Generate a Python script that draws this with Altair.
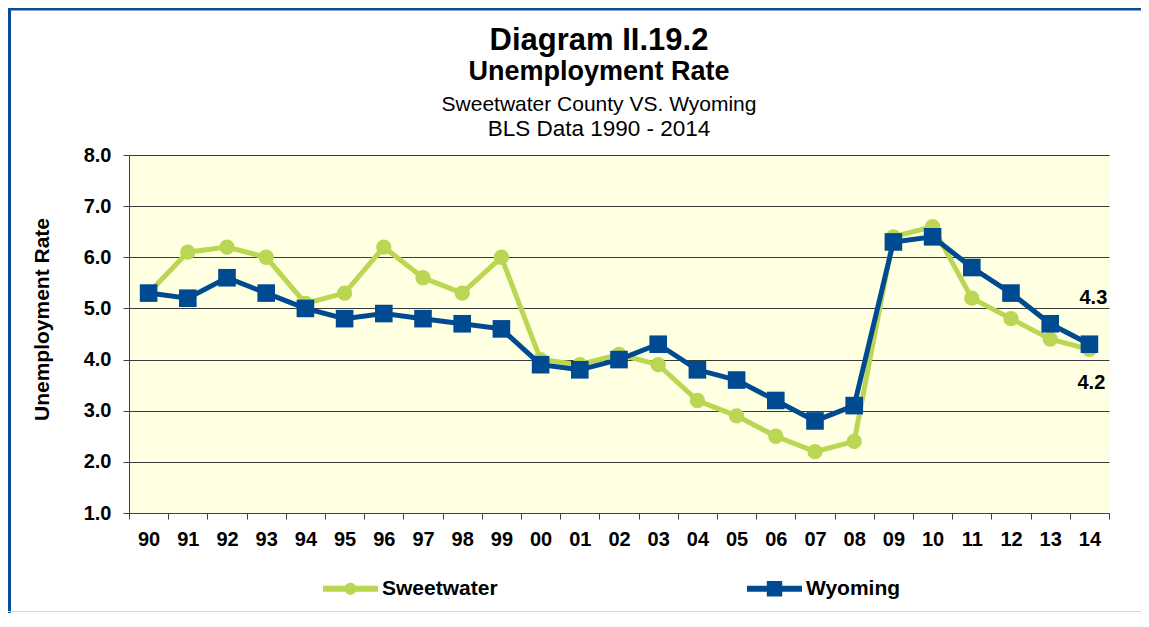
import altair as alt
import pandas as pd

# ---------------- data ----------------
years = ["90", "91", "92", "93", "94", "95", "96", "97", "98", "99",
         "00", "01", "02", "03", "04", "05", "06", "07", "08", "09",
         "10", "11", "12", "13", "14"]
sweetwater = [5.3, 6.1, 6.2, 6.0, 5.1, 5.3, 6.2, 5.6, 5.3, 6.0,
              4.0, 3.9, 4.1, 3.9, 3.2, 2.9, 2.5, 2.2, 2.4, 6.4,
              6.6, 5.2, 4.8, 4.4, 4.2]
wyoming = [5.3, 5.2, 5.6, 5.3, 5.0, 4.8, 4.9, 4.8, 4.7, 4.6,
           3.9, 3.8, 4.0, 4.3, 3.8, 3.6, 3.2, 2.8, 3.1, 6.3,
           6.4, 5.8, 5.3, 4.7, 4.3]
series_names = ["Sweetwater", "Wyoming"]
series_colors = ["#BAD653", "#004A92"]
y_ticks = [1, 2, 3, 4, 5, 6, 7, 8]
title_lines = ["Diagram II.19.2", "Unemployment Rate",
               "Sweetwater County VS. Wyoming", "BLS Data 1990 - 2014"]
y_title = "Unemployment Rate"

rows = []
for name, vals in zip(series_names, [sweetwater, wyoming]):
    for yr, v in zip(years, vals):
        rows.append({"year": yr, "rate": v, "series": name})
df = pd.DataFrame(rows)

FONT = "Liberation Sans"
W, H = 980, 358
# legend glyphs: a bar (line) with a circle / square in the middle, all filled
PATH_C = ("M-1,-0.11L1,-0.11L1,0.11L-1,0.11Z"
          "M-0.22,0A0.22,0.22,0,1,1,0.22,0A0.22,0.22,0,1,1,-0.22,0Z")
PATH_S = ("M-1,-0.11L1,-0.11L1,0.11L-1,0.11Z"
          "M-0.28,-0.28L0.28,-0.28L0.28,0.28L-0.28,0.28Z")

x_enc = alt.X(
    "year:O", sort=years,
    scale=alt.Scale(type="band", paddingInner=0, paddingOuter=0),
    axis=alt.Axis(title=None, labelAngle=0, tickBand="extent", tickSize=6,
                  tickColor="#404040", domainColor="#404040",
                  labelFont=FONT, labelFontSize=20, labelFontWeight="bold",
                  labelColor="#000000", labelPadding=10, grid=False),
)
y_enc = alt.Y(
    "rate:Q",
    scale=alt.Scale(domain=[1, 8], nice=False, zero=False),
    axis=alt.Axis(values=y_ticks, format=".1f", tickSize=6,
                  tickColor="#404040", domainColor="#404040",
                  gridColor="#3A3A3A", gridWidth=1, grid=True,
                  labelFont=FONT, labelFontSize=20, labelFontWeight="bold",
                  labelColor="#000000", labelPadding=12,
                  title=y_title, titleFont=FONT, titleFontSize=21,
                  titleFontWeight="bold", titleColor="#000000",
                  titleAngle=270, titleX=-87, titleY=164,
                  titleAlign="center", titleBaseline="middle"),
)

legend = alt.Legend(
    title=None, orient="none", legendX=194, legendY=406,
    direction="horizontal", padding=0,
    symbolSize=3025, symbolStrokeWidth=0, symbolOpacity=1,
    labelFont=FONT, labelFontSize=21, labelFontWeight="bold",
    labelColor="#000000", labelOffset=4, columnPadding=249,
)

base = alt.Chart(df)
layers = []
shapes = {"Sweetwater": ("circle", 235), "Wyoming": ("square", 310)}
for name, col in zip(series_names, series_colors):
    sub = base.transform_filter(alt.datum.series == name)
    layers.append(sub.mark_line(strokeWidth=5, color=col).encode(x=x_enc, y=y_enc))
    shp, sz = shapes[name]
    layers.append(sub.mark_point(filled=True, shape=shp, size=sz, opacity=1, color=col)
                  .encode(x=x_enc, y=y_enc))

# legend carrier (invisible marks; the legend itself is drawn opaque)
layers.append(base.mark_point(filled=True, size=10, opacity=0, strokeWidth=0)
              .encode(x=x_enc, y=y_enc,
                      fill=alt.Fill("series:N",
                                    scale=alt.Scale(domain=series_names, range=series_colors),
                                    legend=legend),
                      shape=alt.Shape("series:N",
                                      scale=alt.Scale(domain=series_names, range=[PATH_C, PATH_S]),
                                      legend=legend)))

# end-value labels
last = years[-1]
layers.append(base.transform_filter((alt.datum.series == "Wyoming") & (alt.datum.year == last))
              .mark_text(dx=4, dy=-46, font=FONT, fontSize=20, fontWeight="bold", color="#000000")
              .encode(x=x_enc, y=y_enc, text=alt.Text("rate:Q", format=".1f")))
layers.append(base.transform_filter((alt.datum.series == "Sweetwater") & (alt.datum.year == last))
              .mark_text(dx=2, dy=34, font=FONT, fontSize=20, fontWeight="bold", color="#000000")
              .encode(x=x_enc, y=y_enc, text=alt.Text("rate:Q", format=".1f")))

# titles
one = alt.Chart(alt.Data(values=[{"k": 0}]))
title_specs = [(31, "bold", -105.5), (27, "bold", -75), (21, "normal", -44.5), (22.5, "normal", -19.5)]
for txt, (fs, fw, yy) in zip(title_lines, title_specs):
    layers.append(one.mark_text(font=FONT, fontSize=fs, fontWeight=fw, color="#000000",
                                align="center", baseline="alphabetic")
                  .encode(x=alt.value(470), y=alt.value(yy), text=alt.value(txt)))

# frame
layers.append(one.mark_rule(color="#0B4C96", strokeWidth=3)
              .encode(x=alt.value(-121), x2=alt.value(1012), y=alt.value(-146)))
layers.append(one.mark_rule(color="#0B4C96", strokeWidth=4)
              .encode(x=alt.value(-120), y=alt.value(-147), y2=alt.value(458)))
layers.append(one.mark_rule(color="#C5D8EC", strokeWidth=1)
              .encode(x=alt.value(-121), x2=alt.value(1012), y=alt.value(456.5)))

chart = alt.layer(*layers).properties(
    width=W, height=H,
    autosize=alt.AutoSizeParams(type="none"),
    padding={"left": 121, "top": 147, "right": 32, "bottom": 100},
).configure_view(fill="#FFFFE1", stroke="transparent")

chart.save("out.html", embed_options={"renderer": "svg", "actions": False})
